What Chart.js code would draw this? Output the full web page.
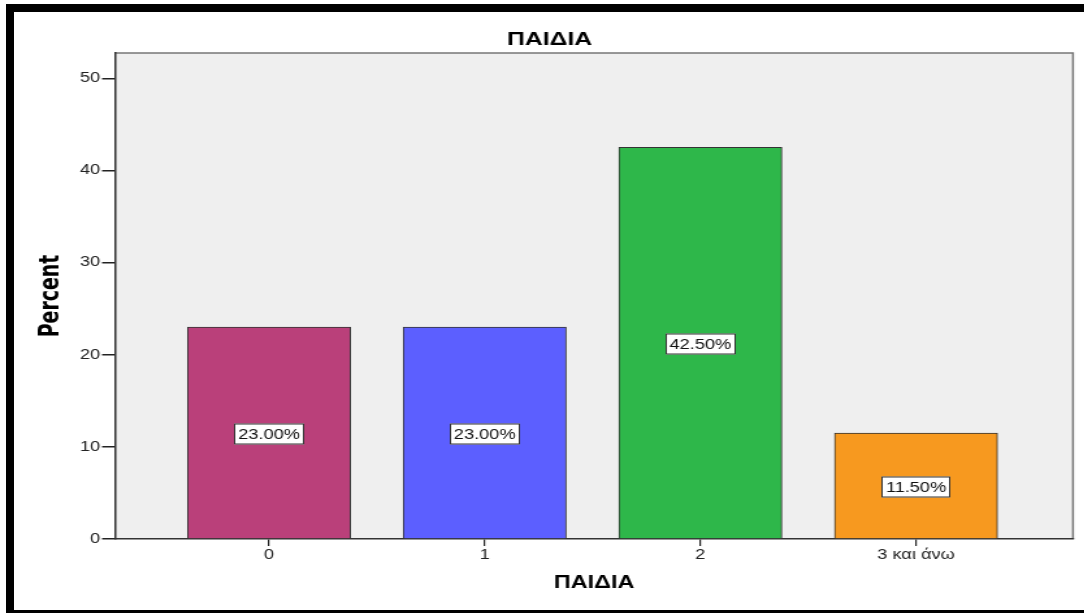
<!DOCTYPE html>
<html>
<head>
<meta charset="utf-8">
<title>ΠΑΙΔΙΑ</title>
<script src="https://cdn.jsdelivr.net/npm/chart.js@4.4.0/dist/chart.umd.min.js"></script>
<style>
  html, body { margin: 0; padding: 0; background: #fff; overflow: hidden; }
  body { width: 1084px; height: 613px; position: relative; }
  /* thick black frame round the whole figure */
  #frame { position: absolute; left: 6px; top: 4px; width: 1100px; height: 614px; border: 8px solid #000; box-sizing: border-box; }
  /* the chart is drawn narrow and stretched sideways, like the exported figure */
  #wrap { position: absolute; left: 0; top: 0; transform: scaleX(1.3); transform-origin: 0 0; }
</style>
</head>
<body>
<div id="frame"></div>
<div id="wrap"><canvas id="chart" width="834" height="613"></canvas></div>
<script>
// data
const categories = ['0', '1', '2', '3 και άνω'];
const percents = [23.0, 23.0, 42.5, 11.5];
const barColors = ['#BA407A', '#5C5FFF', '#2EB74A', '#F7991F'];
const yTicks = [0, 10, 20, 30, 40, 50];

const FONT = '"Liberation Sans", Arial, sans-serif';
const NARROW = '"Liberation Sans Narrow", "DejaVu Sans Condensed", sans-serif';

// grey plot background with a thin frame on top and right
const plotBackground = {
    id: 'plotBackground',
    beforeDraw(chart) {
        const { ctx, chartArea: a } = chart;
        ctx.save();
        ctx.fillStyle = '#EFEFEF';
        ctx.fillRect(a.left, a.top, a.right - a.left, a.bottom - a.top);
        ctx.strokeStyle = '#777';
        ctx.lineWidth = 1.5;
        ctx.beginPath();
        ctx.moveTo(a.left, a.top);
        ctx.lineTo(a.right, a.top);
        ctx.lineTo(a.right, a.bottom);
        ctx.stroke();
        ctx.restore();
    }
};

// boxed percentage label in the middle of every bar
const percentLabels = {
    id: 'percentLabels',
    afterDatasetsDraw(chart) {
        const { ctx } = chart;
        const meta = chart.getDatasetMeta(0);
        ctx.save();
        ctx.font = '14px ' + FONT;
        ctx.textAlign = 'center';
        ctx.textBaseline = 'middle';
        meta.data.forEach((bar, i) => {
            const text = percents[i].toFixed(2) + '%';
            const w = Math.round(ctx.measureText(text).width + 7);
            const h = 21;
            const cy = Math.round((bar.y + bar.base) / 2) + 1;
            const x0 = Math.round(bar.x - w / 2);
            const y0 = cy - h / 2;
            ctx.fillStyle = '#fff';
            ctx.fillRect(x0, y0, w, h);
            ctx.strokeStyle = '#333';
            ctx.lineWidth = 1;
            ctx.strokeRect(x0 + 0.5, y0 + 0.5, w - 1, h - 1);
            ctx.fillStyle = '#111';
            ctx.fillText(text, bar.x, cy + 1);
        });
        ctx.restore();
    }
};

new Chart(document.getElementById('chart'), {
    type: 'bar',
    data: {
        datasets: [{
            data: categories.map((c, i) => ({ x: i, y: percents[i] })),
            backgroundColor: barColors,
            borderColor: '#333',
            borderWidth: 1,
            barThickness: 125.4
        }]
    },
    options: {
        responsive: false,
        animation: false,
        layout: { padding: { left: 20, right: 8.6, top: 0, bottom: 0 } },
        plugins: {
            legend: { display: false },
            tooltip: { enabled: false },
            title: {
                display: true,
                text: 'ΠΑΙΔΙΑ',
                color: '#000',
                font: { family: FONT, size: 19, weight: 'bold' },
                padding: { top: 28.6, bottom: 1.6 }
            }
        },
        scales: {
            x: {
                type: 'linear',
                min: -0.714,
                max: 3.728,
                offset: false,
                grid: { offset: false, drawOnChartArea: false, tickLength: 7, tickColor: '#222', lineWidth: 1.2 },
                border: { color: '#333', width: 1.5 },
                afterBuildTicks: s => { s.ticks = categories.map((c, i) => ({ value: i })); },
                afterFit: s => { s.height = 74; },
                ticks: {
                    callback: v => categories[Math.round(v)],
                    color: '#222',
                    font: { family: FONT, size: 14 },
                    padding: 1,
                    maxRotation: 0,
                    autoSkip: false
                },
                title: {
                    display: true,
                    text: 'ΠΑΙΔΙΑ',
                    color: '#000',
                    font: { family: FONT, size: 18, weight: 'bold' },
                    padding: { top: 0, bottom: 19.2 }
                }
            },
            y: {
                min: 0,
                max: 52.75,
                grid: { drawOnChartArea: false, tickLength: 10, tickColor: '#222', lineWidth: 1.5 },
                border: { color: '#333', width: 1.5 },
                afterBuildTicks: s => { s.ticks = yTicks.map(v => ({ value: v })); },
                afterFit: s => { s.width = 68.5; },
                ticks: {
                    color: '#222',
                    font: { family: FONT, size: 14 },
                    padding: 1.5
                },
                title: {
                    display: true,
                    text: 'Percent',
                    color: '#000',
                    font: { family: NARROW, size: 21, weight: 'bold' },
                    padding: { top: 6.5, bottom: 0 }
                }
            }
        }
    },
    plugins: [plotBackground, percentLabels]
});
</script>
</body>
</html>
